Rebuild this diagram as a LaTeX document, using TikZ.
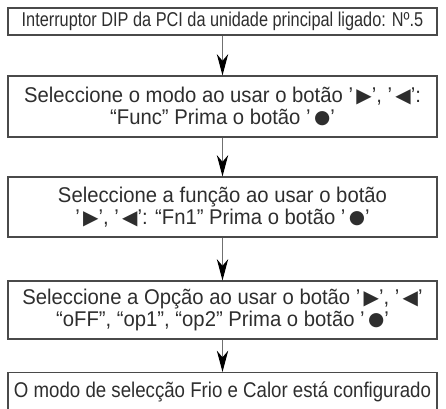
\documentclass[tikz,border=0pt]{standalone}
\usepackage{fontspec}
\setmainfont[FakeStretch=0.95]{Liberation Sans}
\newfontfamily\condfont[FakeStretch=0.815]{Liberation Sans}
\newfontfamily\lastfont[FakeStretch=0.875]{Liberation Sans}
\newfontfamily\symfont{DejaVu Sans}
\usetikzlibrary{arrows.meta}
\newcommand\rtri{\hspace{2.5pt}{\symfont\fontsize{15}{15}\selectfont ▶}}
\newcommand\ltri{\hspace{2.5pt}{\symfont\fontsize{15}{15}\selectfont ◀}}
\newcommand\bdot{\hspace{2.5pt}{\symfont\fontsize{14}{14}\selectfont\raisebox{0.8pt}{●}}}
\definecolor{boxline}{HTML}{4A4A4A}
\definecolor{txt}{HTML}{2E2E2E}
\definecolor{arrline}{HTML}{707070}
\begin{document}
\begin{tikzpicture}[x=0.75pt,y=-0.75pt,
  stepbox/.style={draw=boxline,line width=0.8pt,inner sep=0pt,align=center,
    minimum width=321.75pt,text=txt,font=\fontsize{16}{17}\selectfont},
  flowarrow/.style={draw=arrline,line width=0.9pt,
    -{Stealth[length=16pt,width=8.5pt,inset=5pt,color=black]}}]
\useasboundingbox (0,0) rectangle (446,408);
\clip (0,0) rectangle (446,408);
\node[stepbox,minimum height=20.25pt,font=\condfont\fontsize{15}{16}\selectfont] (b1) at (222.5,21.5)
  {Interruptor DIP da PCI da unidade principal ligado: Nº.5};
\node[stepbox,minimum height=45.75pt] (b2) at (222.5,106.5)
  {Seleccione o modo ao usar o botão ’\rtri’, ’\ltri’:\\“Func” Prima o botão ’\bdot’};
\node[stepbox,minimum height=45pt] (b3) at (222.5,207)
  {Seleccione a função ao usar o botão\\’\rtri’, ’\ltri’: “Fn1” Prima o botão ’\bdot’};
\node[stepbox,minimum height=43.5pt] (b4) at (222.5,310)
  {Seleccione a Opção ao usar o botão ’\rtri’, ’\ltri’\\“oFF”, “op1”, “op2” Prima o botão ’\bdot’};
\node[stepbox,minimum height=30pt,anchor=north,font=\lastfont\fontsize{16}{17}\selectfont] (b5) at (222.5,372)
  {\strut O modo de selecção Frio e Calor está configurado};
\draw[flowarrow] (b1) -- (b2);
\draw[flowarrow] (b2) -- (b3);
\draw[flowarrow] (b3) -- (b4);
\draw[flowarrow] (b4) -- (b5);
\end{tikzpicture}
\end{document}
